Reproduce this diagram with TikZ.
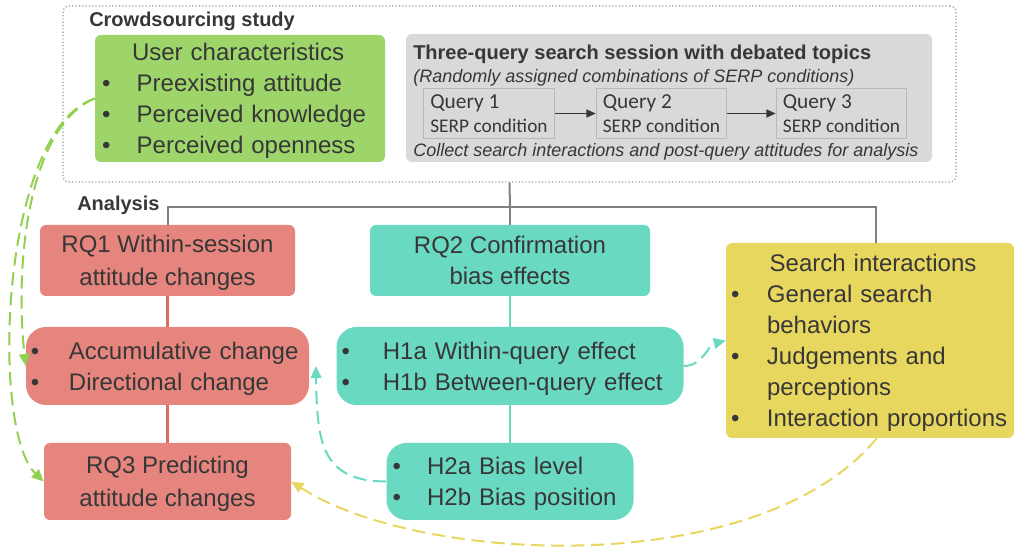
\documentclass[tikz,border=0pt]{standalone}
\usepackage{fontspec}
\setmainfont{Liberation Sans}
\newfontfamily\carlito{Carlito}
\usetikzlibrary{arrows.meta}

\definecolor{studygreen}{RGB}{158,213,106}
\definecolor{sessiongray}{RGB}{217,217,217}
\definecolor{querygray}{RGB}{185,185,185}
\definecolor{framegray}{RGB}{150,150,150}
\definecolor{rqred}{RGB}{230,133,126}
\definecolor{rqteal}{RGB}{106,217,193}
\definecolor{rqyellow}{RGB}{232,215,94}
\definecolor{linkgray}{RGB}{128,128,128}
\definecolor{linkred}{RGB}{218,108,100}
\definecolor{dashgreen}{RGB}{146,208,80}
\definecolor{inkgray}{RGB}{55,55,55}

\newcommand\bodyfont{\fontsize{18}{23.25}\selectfont}
\newcommand\headfont{\fontsize{15}{18}\selectfont\bfseries}
\newcommand\notefont{\fontsize{13.5}{16}\selectfont\itshape}
\newcommand\itm[2][27pt]{\makebox[#1][l]{\textbullet}#2}
% lines of a box, set a little lower than the strut centre
\newcommand\leftlines[1]{\raisebox{-1.9pt}[\height][\depth]{\begin{tabular}{@{}l@{}}#1\end{tabular}}}
\newcommand\midlines[1]{\raisebox{-1.9pt}[\height][\depth]{\begin{tabular}{@{}c@{}}#1\end{tabular}}}

\begin{document}
\begin{tikzpicture}[x=0.75pt, y=-0.75pt]
   \tikzstyle{box} = [rounded corners=4.5pt, inner sep=0pt, text=inkgray, font=\bodyfont]
   \tikzstyle{pill} = [box, rounded corners=15pt]
   \tikzstyle{head} = [anchor=west, inner sep=0pt, text=inkgray, font=\headfont]
   \tikzstyle{note} = [anchor=west, inner sep=0pt, text=inkgray, font=\notefont]
   \tikzstyle{query} = [draw=querygray, fill=sessiongray, line width=0.75pt, inner xsep=5pt, minimum height=37.5pt, align=left, text=inkgray, font=\carlito\fontsize{16}{18}\selectfont]
   \tikzstyle{qline} = [draw=inkgray, line width=1.1pt, -{Triangle[length=7pt,width=6pt]}]
   \tikzstyle{bus} = [draw=linkgray, line width=1.5pt]
   \tikzstyle{redline} = [draw=linkred, line width=2pt]
   \tikzstyle{tealline} = [draw=rqteal, line width=2pt]
   \tikzstyle{dashlink} = [draw, line width=1.5pt, dash pattern=on 10pt off 5pt, -{Triangle[length=9pt,width=8pt]}]

   \useasboundingbox (0,0) rectangle (1014,548);

   % crowdsourcing study
   \node[draw=framegray, dash pattern=on 0.9pt off 1.6pt, line width=0.9pt, rounded corners=4.5pt, minimum width=669.75pt, minimum height=132pt] (study) at (509.5,94) {};
   \node[head] (studytitle) at (89,21) {Crowdsourcing study};
   \node[box, fill=studygreen, minimum width=217.5pt, minimum height=95.25pt, text width=207pt, align=left] (user) at (240,98.5) {\leftlines{\multicolumn{1}{c}{\hspace{6pt}User characteristics}\\ \itm[26pt]{Preexisting attitude}\\ \itm[26pt]{Perceived knowledge}\\ \itm[26pt]{Perceived openness}}};

   \node[box, fill=sessiongray, minimum width=394.5pt, minimum height=96pt] (session) at (669,98) {};
   \node[head] (sessiontitle) at (413,54) {Three-query search session with debated topics};
   \node[note] (sessionnote) at (413,78) {(Randomly assigned combinations of SERP conditions)};
   \node[query] (q1) at (489,113.5) {Query 1\\{\fontsize{14.5}{18}\selectfont SERP condition}};
   \node[query] (q2) at (661.5,113.5) {Query 2\\{\fontsize{14.5}{18}\selectfont SERP condition}};
   \node[query] (q3) at (841.5,113.5) {Query 3\\{\fontsize{14.5}{18}\selectfont SERP condition}};
   \node[note] (sessionfoot) at (413,152) {Collect search interactions and post-query attitudes for analysis};

   \path[qline] (q1) -- (q2);
   \path[qline] (q2) -- (q3);

   % analysis
   \node[head] (analysistitle) at (77,205) {Analysis};
   \coordinate (hub) at (510,207);

   \node[box, fill=rqred, minimum width=191.25pt, minimum height=53.25pt] (rq1) at (167.5,260.5) {\midlines{RQ1 Within-session\\[1.5pt]attitude changes}};
   \node[pill, fill=rqred, minimum width=212.25pt, minimum height=58.5pt, text width=204.75pt, align=left] (accum) at (167.5,366) {\leftlines{\itm[28.5pt]{Accumulative change}\\ \itm[28.5pt]{Directional change}}};
   \node[box, fill=rqred, minimum width=185.25pt, minimum height=57.75pt] (rq3) at (167.5,481.5) {\midlines{RQ3 Predicting\\[1.5pt]attitude changes}};

   \node[box, fill=rqteal, minimum width=210pt, minimum height=53.25pt] (rq2) at (510,260.5) {\midlines{RQ2 Confirmation\\bias effects}};
   \node[pill, fill=rqteal, minimum width=260.25pt, minimum height=58.5pt, text width=252.75pt, align=left] (h1) at (510,366) {\leftlines{\itm[31pt]{H1a Within-query effect}\\ \itm[31pt]{H1b Between-query effect}}};
   \node[pill, fill=rqteal, minimum width=185.25pt, minimum height=57.75pt, text width=176.25pt, align=left] (h2) at (510,481.5) {\leftlines{\itm[26pt]{H2a Bias level}\\ \itm[26pt]{H2b Bias position}}};

   \node[box, fill=rqyellow, minimum width=216pt, minimum height=146.25pt, text width=208.5pt, align=left] (search) at (870,340.5) {\leftlines{\multicolumn{1}{c}{\hspace{6pt}Search interactions}\\ \itm{General search}\\ \makebox[27pt]{}behaviors\\ \itm{Judgements and}\\ \makebox[27pt]{}perceptions\\ \itm{Interaction proportions}}};

   \path[bus] (study.south) -- (hub);
   \path[bus] (hub) -- (rq2);
   \path[bus] (rq1.north) |- (hub) -| ([xshift=4.5pt]search.north);

   \path[redline] (rq1) -- (accum);
   \path[redline] (accum) -- (rq3);
   \path[tealline] (rq2) -- (h1);
   \path[tealline] (h1) -- (h2);

   \path[dashlink, dashgreen] (user.west) .. controls (30,125) and (14,260) .. (accum.west);
   \path[dashlink, dashgreen] (user.west) .. controls (0,130) and (-10,430) .. (rq3.west);
   \path[dashlink, rqteal] (h2.west) .. controls (320,481.5) and (317,440) .. ([xshift=5pt]accum.east);
   \path[dashlink, rqteal] (h1.east) .. controls (703,366) and (708,345) .. (search.west);
   \path[dashlink, rqyellow] ([xshift=5pt]search.south) .. controls (760,580) and (420,565) .. (rq3.east);

\end{tikzpicture}
\end{document}
